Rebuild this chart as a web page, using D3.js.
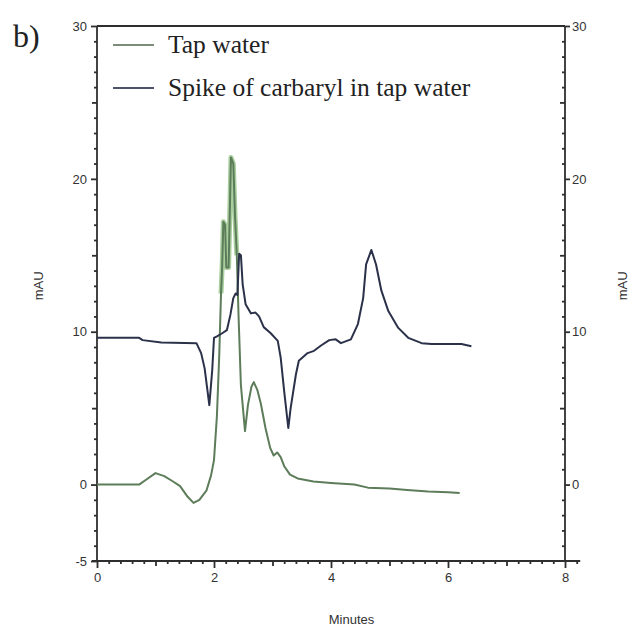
<!DOCTYPE html>
<html>
<head>
<meta charset="utf-8">
<script src="https://cdn.jsdelivr.net/npm/d3@7"></script>
<style>
  body { margin: 0; background: #fff; }
  svg { display: block; }
</style>
</head>
<body>
<svg id="chart" width="629" height="631"></svg>
<script>
// ---- data -----------------------------------------------------------------
const seriesNames = ['Tap water', 'Spike of carbaryl in tap water'];

const tapTime = [0, 0.4, 0.72, 0.85, 1.0, 1.15, 1.3, 1.42, 1.55, 1.65, 1.75, 1.87, 1.95, 2.0, 2.05,
    2.09, 2.12, 2.14, 2.16, 2.19, 2.21, 2.25, 2.29, 2.33, 2.36, 2.39, 2.42, 2.46, 2.53, 2.58, 2.64,
    2.68, 2.74, 2.8, 2.88, 2.96, 3.02, 3.08, 3.14, 3.2, 3.3, 3.43, 3.7, 4.0, 4.2, 4.4, 4.63, 5.0,
    5.3, 5.66, 6.0, 6.2];
const tapValue = [0, 0, 0, 0.35, 0.75, 0.55, 0.2, -0.1, -0.8, -1.2, -1.0, -0.4, 0.6, 1.6, 4.5,
    8.5, 12.5, 14.3, 17.2, 17.0, 14.2, 14.2, 21.4, 21.0, 17.5, 15.0, 11, 6.5, 3.5, 5.2, 6.4,
    6.7, 6.2, 5.3, 3.7, 2.4, 1.9, 2.1, 1.8, 1.2, 0.65, 0.4, 0.2, 0.1, 0.05, 0, -0.2, -0.25,
    -0.35, -0.45, -0.5, -0.55];

const spikeTime = [0, 0.72, 0.78, 1.1, 1.7, 1.78, 1.84, 1.92, 1.97, 2.0, 2.05, 2.14, 2.22, 2.28,
    2.33, 2.37, 2.4, 2.43, 2.46, 2.49, 2.54, 2.63, 2.71, 2.77, 2.85, 2.97, 3.09, 3.14, 3.2, 3.27,
    3.31, 3.4, 3.45, 3.6, 3.71, 3.83, 3.97, 4.08, 4.17, 4.34, 4.46, 4.55, 4.6, 4.69, 4.77, 4.86,
    4.98, 5.15, 5.32, 5.55, 5.72, 6.23, 6.4];
const spikeValue = [9.6, 9.6, 9.45, 9.3, 9.25, 8.6, 7.6, 5.2, 7.5, 9.6, 9.7, 9.9, 10.1, 11.1,
    12.2, 12.5, 12.4, 15.1, 15.0, 13.1, 11.8, 11.2, 11.25, 11.0, 10.3, 9.9, 9.4, 8.3, 6.1, 3.7,
    5.0, 7.2, 8.1, 8.6, 8.75, 9.1, 9.45, 9.5, 9.25, 9.5, 10.5, 12.2, 14.4, 15.35, 14.4, 12.7,
    11.35, 10.25, 9.6, 9.25, 9.2, 9.2, 9.05];

const xTickLabels = [0, 2, 4, 6, 8];
const yTickLabels = [-5, 0, 10, 20, 30];

// ---- layout -----------------------------------------------------------------
const plot = { left: 97, right: 565, top: 26, bottom: 561 };
const axisColor = '#2e2e2e';
const greenColor = '#5d7c5a';
const blueColor = '#2b3149';
const sansFont = 'Liberation Sans, Arial, sans-serif';
const serifFont = 'Liberation Serif, Times New Roman, serif';

const svg = d3.select('#chart');

const x = d3.scaleLinear().domain([0, 8]).range([plot.left, plot.right]);
const y = d3.scaleLinear().domain([-5, 30]).range([plot.bottom, plot.top]);

//------------------------------------------------------------------------------
// minor / medium / major tick sets
const minorY = d3.range(-5, 31, 1).filter(v => v % 5 !== 0);
const mediumY = d3.range(-5, 31, 5).filter(v => !yTickLabels.includes(v));
const minorX = d3.range(0, 8.21, 0.2).map(v => +v.toFixed(1)).filter(v => !Number.isInteger(v));
const mediumX = [1, 3, 5, 7];

function styleAxis(g) {
    g.select('.domain').remove();
    g.selectAll('.tick line')
        .attr('stroke', axisColor)
        .style('stroke', axisColor)
        .style('stroke-width', '1.8px');
    g.selectAll('.tick text')
        .attr('fill', '#333')
        .style('font-family', sansFont)
        .style('font-size', '13px');
}

function addAxis(axis, tx, ty) {
    svg.append('g')
        .attr('transform', `translate(${tx},${ty})`)
        .call(axis)
        .call(styleAxis);
}

const fmt = d => String(d);

// left axis
addAxis(d3.axisLeft(y).tickValues(minorY).tickSize(3).tickFormat(''), plot.left, 0);
addAxis(d3.axisLeft(y).tickValues(mediumY).tickSize(5).tickFormat(''), plot.left, 0);
addAxis(d3.axisLeft(y).tickValues(yTickLabels).tickSize(6).tickPadding(4).tickFormat(fmt), plot.left, 0);

// right axis: minor ticks inside, labelled ticks outside
addAxis(d3.axisLeft(y).tickValues(minorY).tickSize(3).tickFormat(''), plot.right, 0);
addAxis(d3.axisLeft(y).tickValues(mediumY).tickSize(5).tickFormat(''), plot.right, 0);
addAxis(d3.axisRight(y).tickValues(yTickLabels.filter(v => v >= 0)).tickSize(5).tickPadding(2).tickFormat(fmt), plot.right, 0);

// bottom axis
addAxis(d3.axisBottom(x).tickValues(minorX).tickSize(3).tickFormat(''), 0, plot.bottom);
addAxis(d3.axisBottom(x).tickValues(mediumX).tickSize(5).tickFormat(''), 0, plot.bottom);
addAxis(d3.axisBottom(x).tickValues(xTickLabels).tickSize(7).tickPadding(5).tickFormat(fmt), 0, plot.bottom);

// frame lines
const frame = svg.append('g')
    .attr('stroke', axisColor)
    .attr('stroke-width', 1.8);
frame.append('line')
    .attr('x1', plot.left).attr('x2', plot.left).attr('y1', plot.top).attr('y2', plot.bottom);
frame.append('line')
    .attr('x1', plot.right).attr('x2', plot.right).attr('y1', plot.top).attr('y2', plot.bottom);
frame.append('line')
    .attr('x1', plot.left).attr('x2', plot.right).attr('y1', plot.top).attr('y2', plot.top);
frame.append('line')
    .attr('x1', plot.left - 5).attr('x2', x(8.26)).attr('y1', plot.bottom).attr('y2', plot.bottom);

//------------------------------------------------------------------------------
// traces
const line = d3.line()
    .x(d => x(d[0]))
    .y(d => y(d[1]));

const tapData = d3.zip(tapTime, tapValue);
const spikeData = d3.zip(spikeTime, spikeValue);

// light green band under the noisy tap-water spike
svg.append('path')
    .attr('fill', 'none')
    .attr('stroke', '#a9cf9f')
    .attr('stroke-width', 5)
    .attr('stroke-linejoin', 'round')
    .attr('d', line(tapData.filter(d => d[0] >= 2.12 && d[0] <= 2.4)));

svg.append('path')
    .attr('fill', 'none')
    .attr('stroke', greenColor)
    .attr('stroke-width', 2)
    .attr('stroke-linejoin', 'round')
    .attr('d', line(tapData));

svg.append('path')
    .attr('fill', 'none')
    .attr('stroke', blueColor)
    .attr('stroke-width', 2)
    .attr('stroke-linejoin', 'round')
    .attr('d', line(spikeData));

//------------------------------------------------------------------------------
// legend
const legendColors = ['#7b8c78', '#4d5366'];
const legend = svg.append('g').attr('transform', 'translate(113,45)');
seriesNames.forEach((name, i) => {
    const row = legend.append('g').attr('transform', `translate(0,${i * 43})`);
    row.append('line')
        .attr('x1', 0).attr('x2', 41)
        .attr('stroke', legendColors[i]).attr('stroke-width', 2);
    row.append('text')
        .attr('x', 55).attr('y', 8)
        .attr('fill', '#222')
        .style('font-family', serifFont)
        .style('font-size', '25.5px')
        .text(name);
});

// labels
svg.append('text')
    .attr('x', 13).attr('y', 47)
    .attr('fill', '#222')
    .style('font-family', serifFont)
    .style('font-size', '32px')
    .text('b)');

svg.append('text')
    .attr('transform', `translate(43,${y(13)}) rotate(-90)`)
    .attr('text-anchor', 'middle')
    .attr('fill', '#333')
    .style('font-family', sansFont)
    .style('font-size', '13px')
    .text('mAU');

svg.append('text')
    .attr('transform', `translate(627,${y(13)}) rotate(-90)`)
    .attr('text-anchor', 'middle')
    .attr('fill', '#333')
    .style('font-family', sansFont)
    .style('font-size', '13px')
    .text('mAU');

svg.append('text')
    .attr('x', x(4.35)).attr('y', 624)
    .attr('text-anchor', 'middle')
    .attr('fill', '#333')
    .style('font-family', sansFont)
    .style('font-size', '13px')
    .text('Minutes');
</script>
</body>
</html>
